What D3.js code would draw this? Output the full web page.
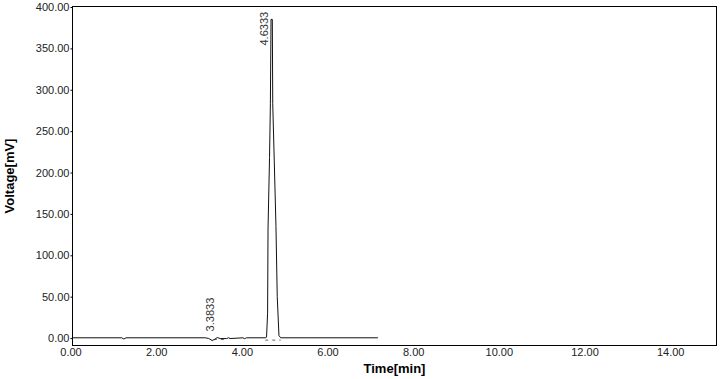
<!DOCTYPE html>
<html>
<head>
<meta charset="utf-8">
<script src="https://cdn.jsdelivr.net/npm/d3@7"></script>
<style>
  body { margin: 0; background: #fff; }
  svg { display: block; font-family: "Liberation Sans", Arial, sans-serif; }
</style>
</head>
<body>
<svg id="chart"></svg>
<script>
const size = {w: 725, h: 379};
const plot = {l: 72.5, t: 6.5, r: 716.5, b: 345.5};

// chromatogram trace
const timeMin = [0, 1.15, 1.2, 1.25, 3.1, 3.18, 3.26, 3.32, 3.38, 3.45, 3.6, 3.64, 3.68, 3.98, 4.02, 4.06, 4.5, 4.53, 4.555, 4.565, 4.60, 4.62, 4.635, 4.665, 4.675, 4.71, 4.75, 4.78, 4.82, 4.86, 5.5, 7.13];
const voltage = [0.3, 0.3, -1.2, 0.3, 0.3, -0.5, -3.0, -1.5, 0.6, -0.6, -0.6, 0.4, -0.6, 0.3, -0.8, 0.3, 0.3, 1.0, 30, 133, 218, 283, 385, 385, 283, 215, 135, 50, 3, 0.3, 0.3, 0.3];

// integration baselines (dashed) under the peaks
const baseStart = [3.3, 4.5];
const baseEnd = [3.62, 4.86];
const baseLevel = [-1.8, -2.5];

// peak labels
const peakTime = [3.3833, 4.6333];
const peakHeight = [2, 385];
const peakLabel = ['3.3833', '4.6333'];

const xTicks = [0, 2, 4, 6, 8, 10, 12, 14];
const yTicks = [0, 50, 100, 150, 200, 250, 300, 350, 400];

const svg = d3.select('svg#chart')
    .attr('width', size.w)
    .attr('height', size.h);

const x = d3.scaleLinear().domain([0, 15]).range([plot.l, plot.r - 1.5]);
const y = d3.scaleLinear().domain([-9, 400]).range([plot.b, plot.t + 0.5]);

// y axis labels
const yAxis = svg.append('g')
    .attr('transform', `translate(${plot.l}, 0)`)
    .call(d3.axisLeft(y).tickValues(yTicks).tickFormat(d3.format('.2f')).tickSize(2).tickPadding(1));
yAxis.select('.domain').remove();
yAxis.selectAll('text')
    .attr('fill', '#222')
    .style('font-size', '11px');

// x axis labels
const xAxis = svg.append('g')
    .attr('transform', `translate(-2, ${plot.b})`)
    .call(d3.axisBottom(x).tickValues(xTicks).tickFormat(d3.format('.2f')).tickSize(0).tickPadding(3));
xAxis.select('.domain').remove();
xAxis.selectAll('text')
    .attr('fill', '#222')
    .style('font-size', '11px');

// frame
svg.append('rect')
    .attr('x', plot.l)
    .attr('y', plot.t)
    .attr('width', plot.r - plot.l)
    .attr('height', plot.b - plot.t)
    .attr('fill', 'none')
    .attr('stroke', '#000')
    .attr('stroke-width', 1);

// integration baselines
svg.append('g')
    .selectAll('line')
    .data(baseStart)
    .join('line')
    .attr('x1', (d, i) => x(d))
    .attr('x2', (d, i) => x(baseEnd[i]))
    .attr('y1', (d, i) => y(baseLevel[i]))
    .attr('y2', (d, i) => y(baseLevel[i]))
    .attr('stroke', '#666')
    .attr('stroke-dasharray', '3,4');

// trace
const line = d3.line()
    .x(i => x(timeMin[i]))
    .y(i => y(voltage[i]));

svg.append('path')
    .attr('d', line(d3.range(timeMin.length)))
    .attr('fill', 'none')
    .attr('stroke', '#111')
    .attr('stroke-width', 1);

// peak labels, rotated, clamped to the top of the plot
svg.append('g')
    .selectAll('text')
    .data(peakTime)
    .join('text')
    .attr('transform', (d, i) => {
        const yy = Math.max(y(peakHeight[i]) - 5, plot.t + 39);
        return `translate(${x(d) - 3}, ${yy}) rotate(-90)`;
    })
    .attr('fill', '#333')
    .style('font-size', '11px')
    .text((d, i) => peakLabel[i]);

// axis titles
svg.append('text')
    .attr('x', (plot.l + plot.r) / 2)
    .attr('y', 373)
    .attr('text-anchor', 'middle')
    .style('font-size', '13px')
    .style('font-weight', 'bold')
    .text('Time[min]');

svg.append('text')
    .attr('transform', `translate(14, ${(plot.t + plot.b) / 2}) rotate(-90)`)
    .attr('text-anchor', 'middle')
    .style('font-size', '13px')
    .style('font-weight', 'bold')
    .text('Voltage[mV]');
</script>
</body>
</html>
